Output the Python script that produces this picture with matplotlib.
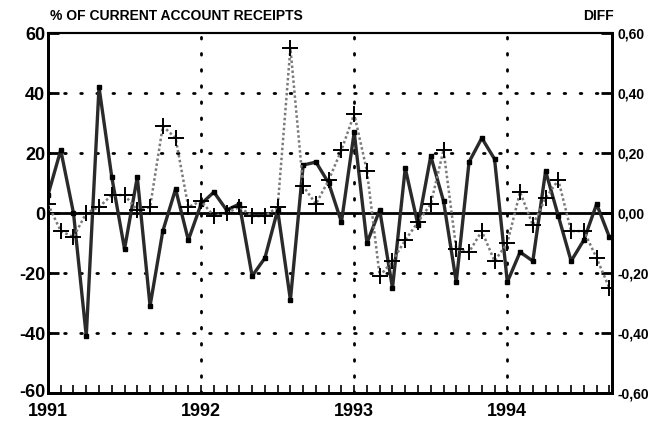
import numpy as np
import matplotlib
matplotlib.use("Agg")
import matplotlib.pyplot as plt
import matplotlib.transforms as mtransforms
from matplotlib.ticker import FixedLocator, FuncFormatter

# monthly observations, Jan 1991 .. Sep 1994
start_year = 1991
receipts_pct = [6, 21, 0, -41, 42, 12, -12, 12, -31, -6,
                8, -9, 3, 7, 1, 3, -21, -15, 1, -29,
                16, 17, 10, -3, 27, -10, 1, -25, 15, -4,
                19, 4, -23, 17, 25, 18, -23, -13, -16, 14,
                -1, -16, -9, 3, -8]
diff = [0.03, -0.06, -0.08, 0.00, 0.02, 0.06, 0.06, 0.01, 0.02, 0.29,
        0.25, 0.02, 0.04, -0.01, 0.00, 0.02, -0.01, -0.01, 0.02, 0.55,
        0.09, 0.03, 0.11, 0.21, 0.33, 0.14, -0.21, -0.16, -0.09, -0.03,
        0.03, 0.21, -0.12, -0.13, -0.06, -0.16, -0.10, 0.07, -0.04, 0.05,
        0.11, -0.06, -0.06, -0.15, -0.25]
year_labels = ["1991", "1992", "1993", "1994"]

months = np.arange(len(receipts_pct))
x = start_year + months / 12.0

plt.rcParams["font.family"] = ["Liberation Sans", "DejaVu Sans"]
plt.rcParams["font.weight"] = "bold"

fig = plt.figure(figsize=(6.51, 4.24), dpi=100)
ax = fig.add_axes([0.0737, 0.073, 0.8663, 0.849])
ax2 = ax.twinx()

xmax = start_year + 44.2 / 12
ax.set_xlim(start_year, xmax)
ax.set_ylim(-60, 60)
ax2.set_ylim(-0.6, 0.6)

dots = (0, (0.6, 5.2))
for yv in (-40, -20, 20, 40):
    ax.axhline(yv, color="black", lw=2, ls=dots, dash_capstyle="round", zorder=1)
for yr in (1992, 1993, 1994):
    ax.axvline(yr, color="black", lw=2, ls=dots, dash_capstyle="round", zorder=1)
ax.axhline(0, color="black", lw=2, zorder=2)

ax2.plot(x, diff, color="#7a7a7a", lw=1.8, ls=(0, (1, 1)), zorder=3)
ax2.plot(x, diff, ls="none", marker="+", ms=12, mew=1.4, color="black", zorder=5)
ax.plot(x, receipts_pct, color="#2a2a2a", lw=2.4, marker="s", ms=3.5,
        mfc="black", mec="black", zorder=4)

ax.xaxis.set_major_locator(FixedLocator([1991, 1992, 1993, 1994]))
ax.set_xticklabels(year_labels, fontsize=13, fontweight="bold")
ax.xaxis.set_minor_locator(FixedLocator(start_year + np.arange(1, 45) / 12.0))
ax.tick_params(axis="x", which="both", direction="in", length=6, width=1.2, pad=7)

ax.set_yticks([-60, -40, -20, 0, 20, 40, 60])
ax.set_yticklabels(["-60", "-40", "-20", "0", "20", "40", "60"], fontsize=13, fontweight="bold")
ax.tick_params(axis="y", direction="in", length=8, width=2, pad=2)
# lift the bottom label a touch so it clears the year label
bottom_lbl = ax.get_yticklabels()[0]
bottom_lbl.set_transform(bottom_lbl.get_transform() +
                         mtransforms.ScaledTranslation(0, 3 / 100, fig.dpi_scale_trans))

ax2.set_yticks([-0.6, -0.4, -0.2, 0, 0.2, 0.4, 0.6])
ax2.yaxis.set_major_formatter(FuncFormatter(lambda v, p: f"{v:.2f}".replace(".", ",")))
ax2.tick_params(axis="y", direction="in", length=8, width=2, pad=4, labelsize=10)
for lbl in ax2.get_yticklabels():
    lbl.set_fontweight("bold")

for a in (ax, ax2):
    for s in ("left", "bottom", "right"):
        a.spines[s].set_linewidth(2)
    a.spines["top"].set_linewidth(1.5)

fig.text(0.077, 0.962, "% OF CURRENT ACCOUNT RECEIPTS", fontsize=10, fontweight="bold",
         ha="left", va="center")
fig.text(0.943, 0.962, "DIFF", fontsize=10, fontweight="bold", ha="right", va="center")

fig.savefig("out.png", dpi=100)
